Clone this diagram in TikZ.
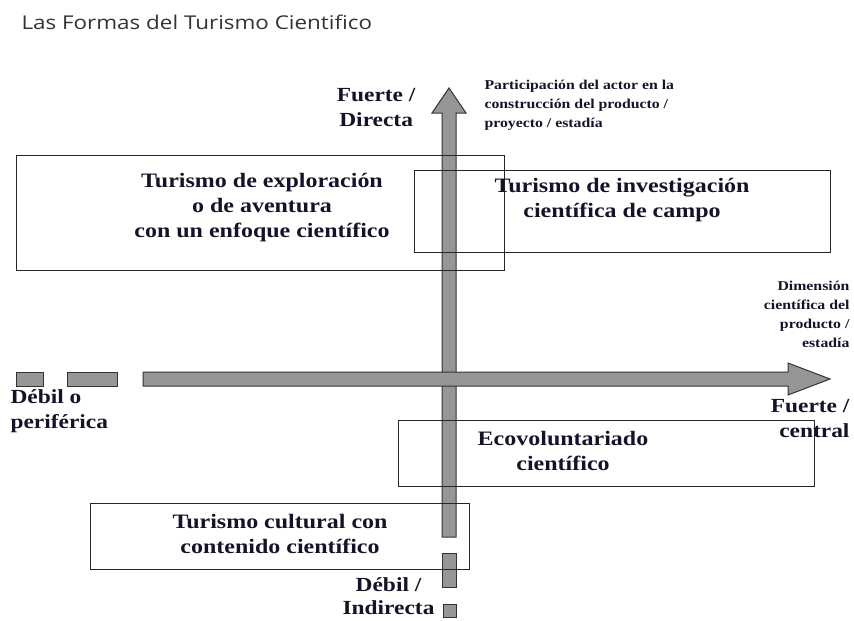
\documentclass[tikz,border=0pt]{standalone}
\usepackage{fontspec}
\setmainfont[FakeStretch=1.17]{Liberation Serif}
\newfontfamily\titlefont[FakeStretch=1.18]{Open Sans}
\usetikzlibrary{positioning}
\definecolor{arrowgray}{rgb}{0.59, 0.59, 0.59}
\definecolor{textnavy}{rgb}{0.08, 0.08, 0.16}

\tikzset{
    formbox/.style={draw=black!85, line width=0.9pt},
    bigarrow/.style={draw=black!80, line width=1pt, fill=arrowgray, line join=miter},
    formlabel/.style={font=\bfseries\fontsize{20.5}{25}\selectfont, text=textnavy, align=center},
    axislabel/.style={font=\bfseries\fontsize{20}{25}\selectfont, text=textnavy},
    smalllabel/.style={font=\bfseries\fontsize{13.5}{19}\selectfont, text=textnavy}
}

\begin{document}
\begin{tikzpicture}[x=1pt,y=-1pt]
    \useasboundingbox (0,0) rectangle (854,621);
    \node[anchor=west, font=\titlefont\fontsize{19}{22}\selectfont, text=black!80] (title) at (18,22) {Las Formas del Turismo Cientifico};

    % vertical axis (participacion)
    \draw[bigarrow] (442,537) -- (442,113) -- (432,113) -- (449,88) -- (466,113) -- (456,113) -- (456,537) -- cycle;
    \draw[bigarrow] (442,553) rectangle (456,587);
    \draw[bigarrow] (443,604) rectangle (456,617);

    % horizontal axis (dimension cientifica)
    \draw[bigarrow] (143,372) -- (788,372) -- (788,363) -- (830,379) -- (788,395) -- (788,386) -- (143,386) -- cycle;
    \draw[bigarrow] (16,372) rectangle (43,386);
    \draw[bigarrow] (67,372) rectangle (117,386);

    % boxes
    \draw[formbox] (16,155) rectangle (504,270);
    \draw[formbox] (414,170) rectangle (830,252);
    \draw[formbox] (398,420) rectangle (814,486);
    \draw[formbox] (90,503) rectangle (469,569);

    \node[formlabel] (exploracion) at (262,208) {Turismo de exploración\\o de aventura\\con un enfoque científico};
    \node[formlabel] (investigacion) at (622,200) {Turismo de investigación\\científica de campo};
    \node[formlabel] (ecovol) at (563,451) {Ecovoluntariado\\científico};
    \node[formlabel] (cultural) at (280,534) {Turismo cultural con\\contenido científico};

    % axis labels
    \node[axislabel, align=center, anchor=east] (fuertedir) at (419,108) {Fuerte /\\Directa};
    \node[smalllabel, align=left, anchor=west] (participacion) at (481,105) {Participación del actor en la\\construcción del producto /\\proyecto / estadía};
    \node[smalllabel, align=right, anchor=east] (dimension) at (853,314) {Dimensión\\científica del\\producto /\\estadía};
    \node[axislabel, align=right, anchor=east] (fuertecen) at (853,419) {Fuerte /\\central};
    \node[axislabel, align=left, anchor=west] (debilper) at (7,411) {Débil o\\periférica};
    \node[axislabel, align=center, anchor=east, inner ysep=1pt] (debilind) at (438,596) {Débil /\\[-2pt]Indirecta};
\end{tikzpicture}
\end{document}
